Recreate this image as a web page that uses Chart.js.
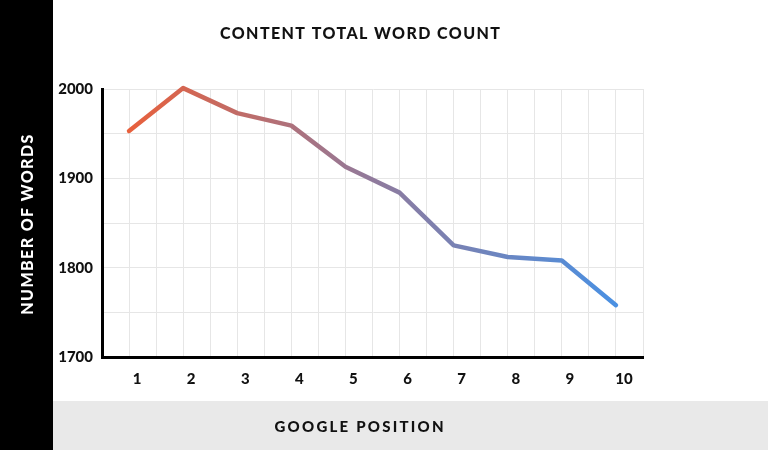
<!DOCTYPE html>
<html>
<head>
<meta charset="utf-8">
<script src="https://cdn.jsdelivr.net/npm/chart.js@4"></script>
<style>
  html, body { margin: 0; padding: 0; background: #fff; }
  #wrap { width: 768px; height: 450px; position: relative; }
</style>
</head>
<body>
<div id="wrap"><canvas id="wordChart"></canvas></div>
<script>
// chart data
const positions  = [1, 2, 3, 4, 5, 6, 7, 8, 9, 10];
const wordCounts = [1953, 2001, 1973, 1959, 1913, 1884, 1825, 1812, 1808, 1758];
const yLabels    = [1700, 1800, 1900, 2000];   // only these get a label, grid every 50

const chartTitle = 'CONTENT TOTAL WORD COUNT';
const xTitle     = 'GOOGLE POSITION';
const yTitle     = 'NUMBER OF WORDS';

const FONT = 'Lato, "Open Sans", sans-serif';

// draw text stretched with letter spacing to a given width
function spacedText(ctx, text, x, y, size, width, color, rot) {
  ctx.save();
  ctx.font = '900 ' + size + 'px ' + FONT;
  ctx.fillStyle = color;
  ctx.textAlign = 'center';
  ctx.textBaseline = 'middle';
  ctx.letterSpacing = '0px';
  const w = ctx.measureText(text).width;
  const sp = Math.max(0, (width - w) / (text.length - 1));
  ctx.letterSpacing = sp + 'px';
  ctx.translate(x + sp / 2, y);
  if (rot) ctx.rotate(rot);
  ctx.fillText(text, 0, 0);
  ctx.restore();
}

// black strip on the left, grey band at the bottom, and the titles
const decor = {
  id: 'decor',
  beforeDraw(chart) {
    const ctx = chart.ctx;
    ctx.save();
    ctx.fillStyle = '#000';
    ctx.fillRect(0, 0, 53, 450);
    ctx.fillStyle = '#e9e9e9';
    ctx.fillRect(53, 401, 715, 49);
    ctx.restore();
    spacedText(ctx, chartTitle, 360, 34, 16, 280, '#111', 0);
    spacedText(ctx, xTitle, 359, 427, 15, 169, '#111', 0);
    spacedText(ctx, yTitle, 27, 224, 16, 180, '#fff', -Math.PI / 2);
  }
};

function lineGradient(context) {
  const chart = context.chart;
  if (!chart.chartArea) return '#e4603f';
  const x = chart.scales.x;
  const g = chart.ctx.createLinearGradient(x.getPixelForValue(1), 0, x.getPixelForValue(10), 0);
  g.addColorStop(0, '#e8603c');
  g.addColorStop(0.5, '#907a9c');
  g.addColorStop(1, '#4a90e2');
  return g;
}

const ctx = document.getElementById('wordChart');

new Chart(ctx, {
  type: 'line',
  data: {
    datasets: [{
      data: positions.map((p, i) => ({ x: p, y: wordCounts[i] })),
      borderColor: lineGradient,
      borderWidth: 4.5,
      borderJoinStyle: 'round',
      borderCapStyle: 'round',
      pointRadius: 0,
      tension: 0,
      fill: false,
      clip: false
    }]
  },
  options: {
    responsive: true,
    maintainAspectRatio: false,
    animation: false,
    layout: { padding: { top: 89, right: 125, left: 0, bottom: 0 } },
    plugins: {
      legend: { display: false },
      tooltip: { enabled: false }
    },
    scales: {
      x: {
        type: 'linear',
        min: 0.5,
        max: 10.5,
        afterFit: s => { s.height = 93; },
        grid: { color: '#e6e6e6', lineWidth: 1, drawTicks: false },
        border: { color: '#000', width: 3 },
        ticks: {
          stepSize: 0.5,
          padding: 13,
          labelOffset: 8,
          color: '#111',
          font: { family: FONT, size: 15, weight: '900' },
          callback: v => Number.isInteger(v) ? String(v) : ''
        }
      },
      y: {
        min: 1700,
        max: 2000,
        afterFit: s => { s.width = 102; },
        grid: { color: '#e6e6e6', lineWidth: 1, drawTicks: false },
        border: { color: '#000', width: 3 },
        ticks: {
          stepSize: 50,
          padding: 9,
          color: '#111',
          font: { family: FONT, size: 15, weight: '900' },
          callback: v => yLabels.includes(v) ? String(v) : ''
        }
      }
    }
  },
  plugins: [decor]
});
</script>
</body>
</html>
